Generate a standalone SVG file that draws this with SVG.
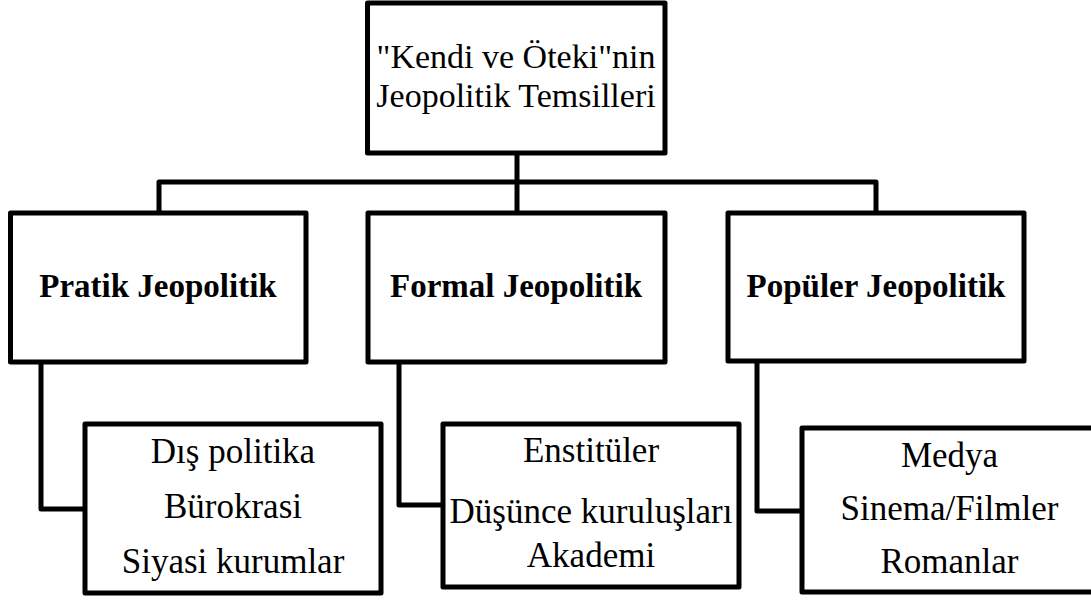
<svg xmlns="http://www.w3.org/2000/svg" width="1091" height="603" viewBox="0 0 1091 603">
<style>
.box{fill:#fff;stroke:#000;stroke-width:5;stroke-linejoin:round}
.con{fill:none;stroke:#000;stroke-width:5;stroke-linejoin:round}
.t{font-family:"Liberation Serif","DejaVu Serif",serif;font-size:34px;fill:#000;text-anchor:middle}
.h{font-family:"Liberation Serif","DejaVu Serif",serif;font-size:33px;font-weight:bold;fill:#000;text-anchor:middle}
.c{font-family:"Liberation Serif","DejaVu Serif",serif;font-size:35px;fill:#000;text-anchor:middle}
</style>
<rect width="1091" height="603" fill="#fff"/>
<g id="connectors">
<path class="con" d="M517 153V213"/>
<path class="con" d="M159 213V182H876V213"/>
<path class="con" d="M41 362V509H85"/>
<path class="con" d="M399 362V505H443"/>
<path class="con" d="M757 361V511H802"/>
</g>
<g id="root">
<rect class="box" x="367.5" y="3" width="297.5" height="150"/>
<text class="t" x="516" y="68">"Kendi ve Öteki"nin</text>
<text class="t" x="516" y="107">Jeopolitik Temsilleri</text>
</g>
<g id="pratik">
<rect class="box" x="10.5" y="213" width="295.5" height="149"/>
<text class="h" x="158" y="297">Pratik Jeopolitik</text>
</g>
<g id="formal">
<rect class="box" x="368" y="213" width="297" height="149"/>
<text class="h" x="516" y="297">Formal Jeopolitik</text>
</g>
<g id="populer">
<rect class="box" x="728" y="213" width="296" height="148"/>
<text class="h" x="876" y="297">Popüler Jeopolitik</text>
</g>
<g id="pratik-items">
<rect class="box" x="85" y="424" width="296" height="169"/>
<text class="c" x="233" y="463">Dış politika</text>
<text class="c" x="233" y="518">Bürokrasi</text>
<text class="c" x="233" y="573">Siyasi kurumlar</text>
</g>
<g id="formal-items">
<rect class="box" x="443" y="424" width="296" height="163"/>
<text class="c" x="591" y="462">Enstitüler</text>
<text class="c" x="591" y="523">Düşünce kuruluşları</text>
<text class="c" x="591" y="567">Akademi</text>
</g>
<g id="populer-items">
<rect class="box" x="802" y="428" width="295" height="164"/>
<text class="c" x="949.5" y="467">Medya</text>
<text class="c" x="949.5" y="520">Sinema/Filmler</text>
<text class="c" x="949.5" y="573">Romanlar</text>
</g>
</svg>
